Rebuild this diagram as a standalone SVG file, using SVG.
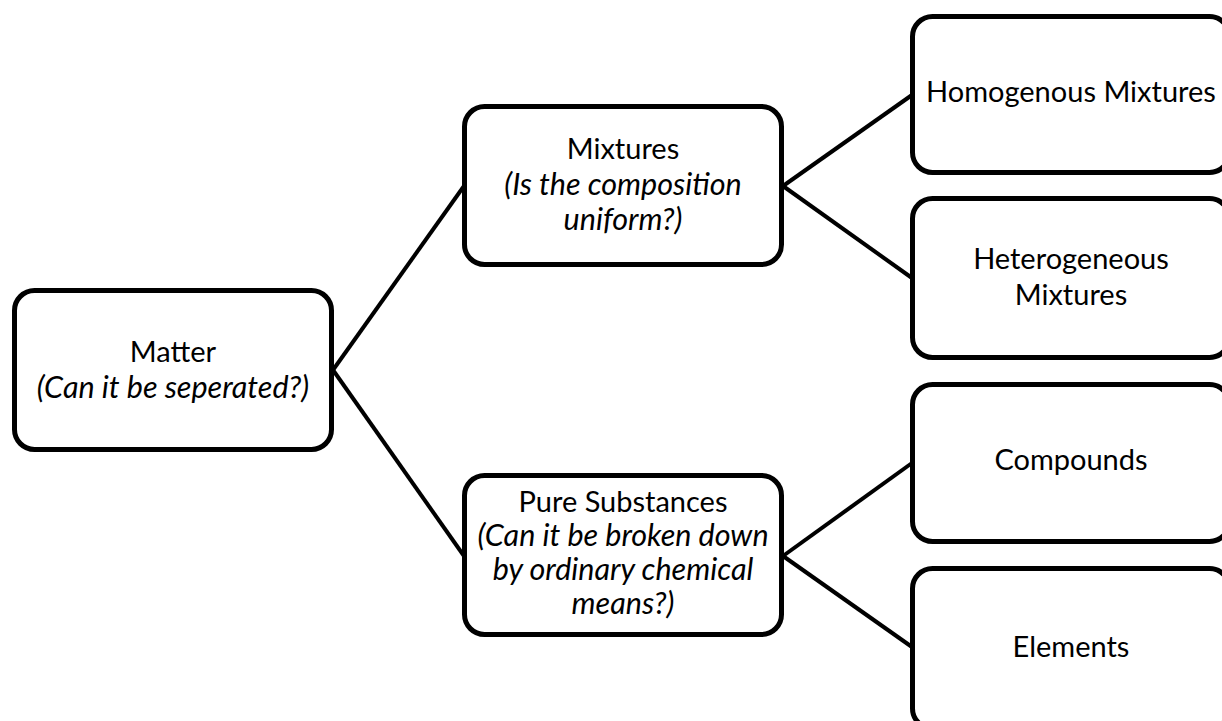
<svg xmlns="http://www.w3.org/2000/svg" width="1222" height="721" viewBox="0 0 1222 721">
<style>
.box{fill:#fff;stroke:#000;stroke-width:5}
.ln{stroke:#000;stroke-width:4;fill:none}
text{font-family:Lato,"Open Sans","Liberation Sans",sans-serif;font-size:29px;fill:#000;text-anchor:middle}
.it{font-style:italic;font-size:30.5px}
</style>
<rect width="1222" height="721" fill="#fff"/>
<g id="connectors">
<line class="ln" x1="333" y1="370" x2="464" y2="186"/>
<line class="ln" x1="333" y1="370" x2="464" y2="556"/>
<line class="ln" x1="783" y1="186" x2="912" y2="95"/>
<line class="ln" x1="783" y1="186" x2="912" y2="278"/>
<line class="ln" x1="783" y1="556" x2="912" y2="463"/>
<line class="ln" x1="783" y1="556" x2="912" y2="647"/>
</g>
<g id="matter">
<rect class="box" x="14.5" y="290.5" width="317" height="159" rx="20"/>
<text x="173" y="362">Matter</text>
<text class="it" x="173" y="398">(Can it be seperated?)</text>
</g>
<g id="mixtures">
<rect class="box" x="464.5" y="106.5" width="317" height="158" rx="20"/>
<text x="623" y="159">Mixtures</text>
<text class="it" x="623" y="195">(Is the composition</text>
<text class="it" x="623" y="230">uniform?)</text>
</g>
<g id="pure">
<rect class="box" x="464.5" y="475.5" width="317" height="159" rx="20"/>
<text x="623" y="512">Pure Substances</text>
<text class="it" x="623" y="546">(Can it be broken down</text>
<text class="it" x="623" y="580">by ordinary chemical</text>
<text class="it" x="623" y="614">means?)</text>
</g>
<g id="homogenous">
<rect class="box" x="912.5" y="16.5" width="317" height="156" rx="20"/>
<text x="1071" y="102">Homogenous Mixtures</text>
</g>
<g id="heterogeneous">
<rect class="box" x="912.5" y="198.5" width="317" height="159" rx="20"/>
<text x="1071" y="269">Heterogeneous</text>
<text x="1071" y="305">Mixtures</text>
</g>
<g id="compounds">
<rect class="box" x="912.5" y="384.5" width="317" height="157" rx="20"/>
<text x="1071" y="470">Compounds</text>
</g>
<g id="elements">
<rect class="box" x="912.5" y="568.5" width="317" height="160" rx="20"/>
<text x="1071" y="657">Elements</text>
</g>
</svg>
